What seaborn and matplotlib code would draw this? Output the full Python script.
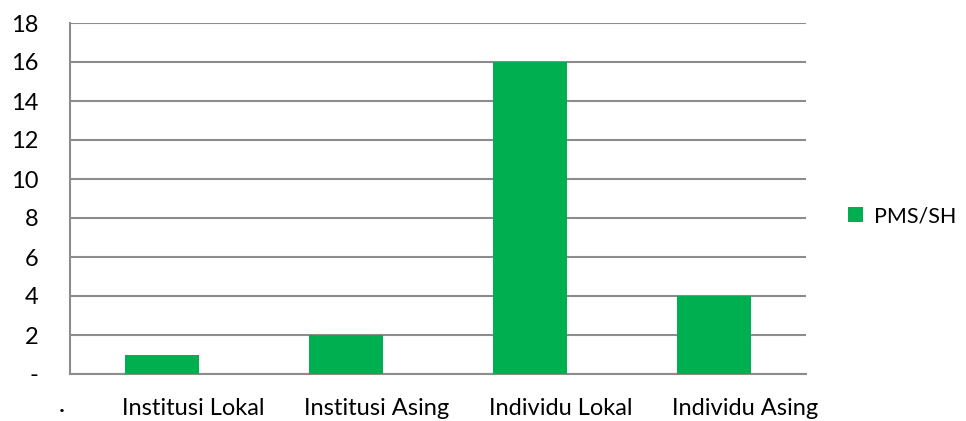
import matplotlib
matplotlib.use('Agg')
import matplotlib.pyplot as plt
import matplotlib.transforms as mtransforms
import seaborn as sns
import pandas as pd

# data
categories = ['Institusi Lokal', 'Institusi Asing', 'Individu Lokal', 'Individu Asing']
values = [1, 2, 16, 4]
series_name = 'PMS/SH'
y_ticks = [0, 2, 4, 6, 8, 10, 12, 14, 16, 18]
y_labels = ['-'] + [str(v) for v in y_ticks[1:]]

df = pd.DataFrame({'kategori': categories, 'jumlah': values})

sns.set_style('white')
plt.rcParams['font.family'] = ['Lato', 'DejaVu Sans']
plt.rcParams['text.color'] = 'black'
plt.rcParams['xtick.color'] = 'black'
plt.rcParams['ytick.color'] = 'black'

fs = 17

fig = plt.figure(figsize=(9.66, 4.21), dpi=100)
ax = fig.add_axes([70 / 966, 1 - 374 / 421, 736 / 966, 351 / 421])

grey = '#8c8c8c'
green = '#00B050'

sns.barplot(data=df, x='kategori', y='jumlah', color=green, width=0.4,
            saturation=1, ax=ax, label=series_name, zorder=3, edgecolor='none')

ax.set_xlim(-0.5, len(categories) - 0.5)
ax.set_ylim(0, 18)
ax.set_yticks(y_ticks)
ax.set_yticklabels(y_labels, fontsize=fs)
ax.yaxis.grid(True, color=grey, linewidth=1.5, zorder=0)
ax.set_axisbelow(True)

# boundary ticks between categories, labels as minor ticks shifted right
n = len(categories)
ax.set_xticks([i - 0.5 for i in range(n + 1)])
ax.set_xticklabels([''] * (n + 1))
ax.set_xticks(list(range(n)), minor=True)
ax.set_xticklabels(categories, minor=True, fontsize=fs)
ax.tick_params(axis='x', which='minor', length=0, pad=17)
ax.tick_params(axis='x', which='major', length=8, width=1.5, color=grey, direction='out')
ax.tick_params(axis='y', length=8, width=1.5, color=grey, direction='out', pad=15)
offset = mtransforms.ScaledTranslation(0.31, 0, fig.dpi_scale_trans)
for lbl in ax.get_xticklabels(minor=True):
    lbl.set_transform(lbl.get_transform() + offset)

for side in ['top', 'right']:
    ax.spines[side].set_visible(False)
ax.spines['bottom'].set_color(grey)
ax.spines['bottom'].set_linewidth(1.5)
ax.spines['left'].set_color(grey)
ax.spines['left'].set_linewidth(1.5)

ax.set_xlabel('')
ax.set_ylabel('')

fig.text(62 / 966, 1 - 410 / 421, '·', fontsize=fs, ha='center', va='center')

ax.legend(loc='center left', bbox_to_anchor=(848 / 966, 1 - 216 / 421),
          bbox_transform=fig.transFigure, frameon=False, fontsize=15.5,
          borderpad=0, borderaxespad=0,
          handlelength=0.7, handleheight=0.7, handletextpad=0.5)

fig.savefig('out.png', dpi=100)
